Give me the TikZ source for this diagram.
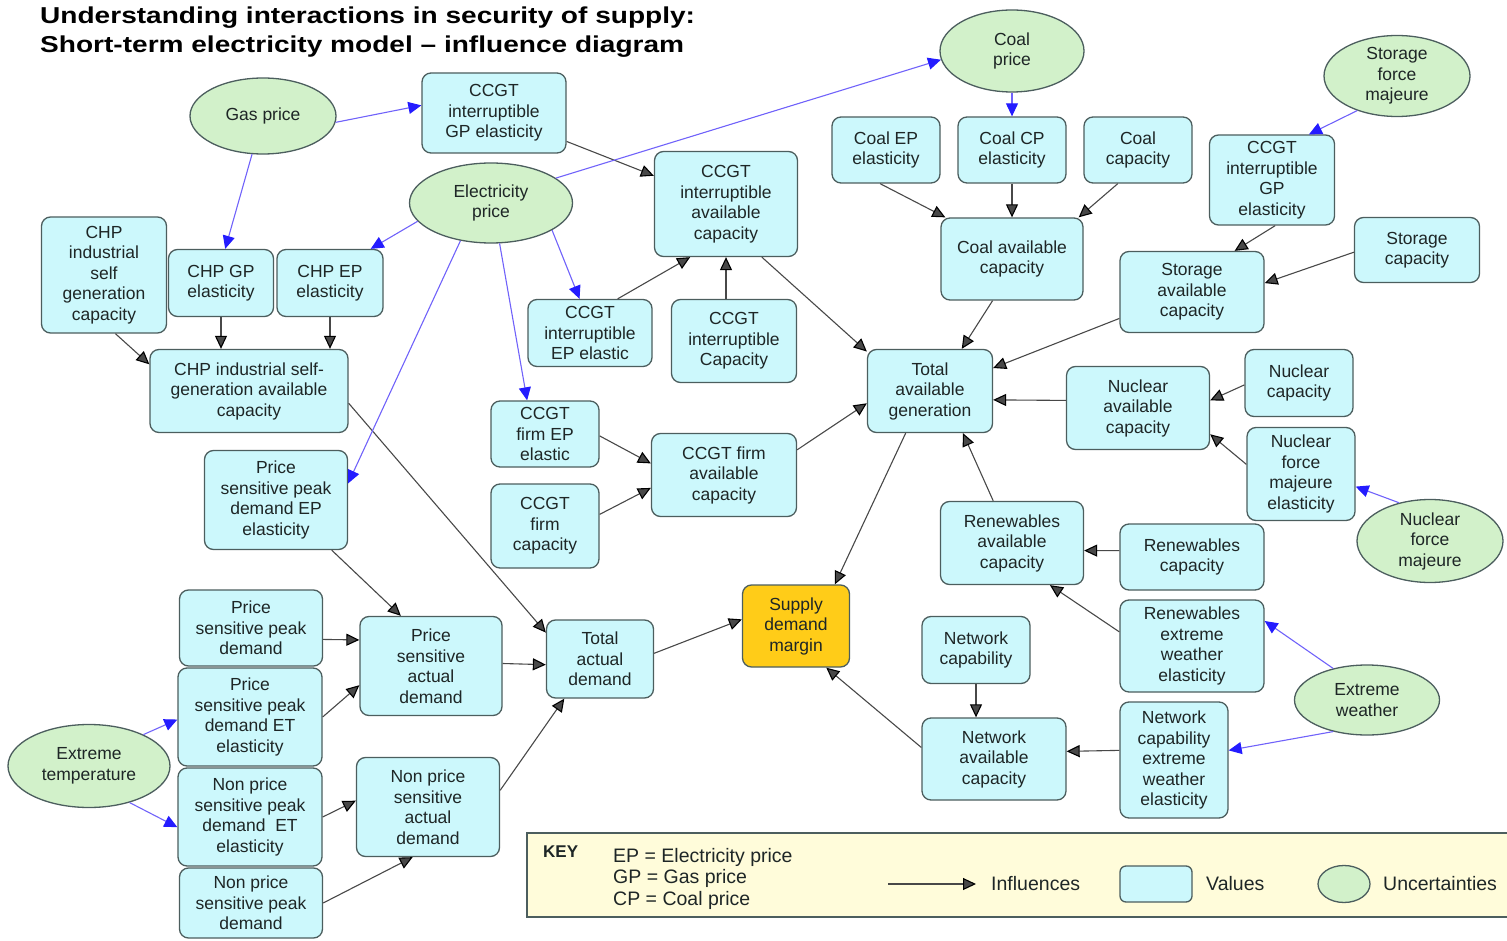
\documentclass[tikz,border=0pt]{standalone}
\usepackage{fontspec}
\setmainfont{Liberation Sans}
\newfontfamily\titlefont[FakeStretch=1.22]{Liberation Sans}
\usetikzlibrary{shapes.geometric,arrows.meta}

\definecolor{valuefill}{RGB}{204,248,252}
\definecolor{uncfill}{RGB}{210,241,202}
\definecolor{edgegrey}{RGB}{76,94,94}
\definecolor{margfill}{RGB}{255,204,24}
\definecolor{keyfill}{RGB}{255,252,218}
\definecolor{lineblue}{RGB}{112,98,250}
\definecolor{tipblue}{RGB}{36,28,255}
\definecolor{linegrey}{RGB}{72,72,72}
\definecolor{textgrey}{RGB}{30,38,38}

\newcommand{\diagfont}{\fontsize{17.5}{20.5}\selectfont}
\newcommand{\legendfont}{\fontsize{19.5}{21.5}\selectfont}

\begin{document}
\begin{tikzpicture}[x=1pt,y=-1pt,
    value/.style={rectangle,rounded corners=9pt,draw=edgegrey,line width=1.3pt,
                  fill=valuefill,align=center,inner sep=2pt,font=\diagfont,text=textgrey},
    uncert/.style={ellipse,draw=edgegrey,line width=1.3pt,fill=uncfill,
                   align=center,inner sep=0pt,font=\diagfont,text=textgrey},
    infl/.style={color=linegrey,line width=1.1pt,
                 -{Triangle[length=13pt,width=12pt,color=black]}},
    blueinfl/.style={color=lineblue,line width=1.1pt,
                     -{Triangle[length=13pt,width=12pt,color=tipblue]}}]

  \useasboundingbox (0,0) rectangle (1507,941);

  % title
  \node[anchor=base west,inner sep=0pt,font=\titlefont\bfseries\fontsize{23}{28}\selectfont]
    (title1) at (40,23.5) {Understanding interactions in security of supply:};
  \node[anchor=base west,inner sep=0pt,font=\titlefont\bfseries\fontsize{23}{28}\selectfont]
    (title2) at (40,52.5) {Short-term electricity model – influence diagram};

  % uncertainties
  \node[uncert,minimum width=146pt,minimum height=76pt] (gas)        at (263,116)  {Gas price};
  \node[uncert,minimum width=163pt,minimum height=80pt] (elec)       at (491,203)  {Electricity\\price};
  \node[uncert,minimum width=144pt,minimum height=82pt] (coal)       at (1012,51)  {Coal\\price};
  \node[uncert,minimum width=146pt,minimum height=81pt] (storfm)     at (1397,76)  {Storage\\force\\majeure};
  \node[uncert,minimum width=146pt,minimum height=83pt] (nucfm)      at (1430,541) {Nuclear\\force\\majeure};
  \node[uncert,minimum width=145pt,minimum height=70pt] (extweather) at (1367,700) {Extreme\\weather};
  \node[uncert,minimum width=162pt,minimum height=83pt] (exttemp)    at (89,766)   {Extreme\\temperature};

  % values, top left
  \node[value,minimum width=144pt,minimum height=80pt]  (ccgtgpl)  at (494,113) {CCGT\\interruptible\\GP elasticity};
  \node[value,minimum width=125pt,minimum height=116pt] (chpcap)   at (104,275) {CHP\\industrial\\self\\generation\\capacity};
  \node[value,minimum width=105pt,minimum height=67pt]  (chpgp)    at (221,283) {CHP GP\\elasticity};
  \node[value,minimum width=106pt,minimum height=67pt]  (chpep)    at (330,283) {CHP EP\\elasticity};
  \node[value,minimum width=198pt,minimum height=83pt]  (chpavail) at (249,391) {CHP industrial self-\\generation available\\capacity};

  % values, CCGT
  \node[value,minimum width=143pt,minimum height=105pt] (ccgtavail) at (726,204) {CCGT\\interruptible\\available\\capacity};
  \node[value,minimum width=124pt,minimum height=67pt]  (ccgtiep)   at (590,333) {CCGT\\interruptible\\EP elastic};
  \node[value,minimum width=125pt,minimum height=83pt]  (ccgticap)  at (734,341) {CCGT\\interruptible\\Capacity};
  \node[value,minimum width=108pt,minimum height=66pt]  (firmep)    at (545,434) {CCGT\\firm EP\\elastic};
  \node[value,minimum width=108pt,minimum height=84pt]  (firmcap)   at (545,526) {CCGT\\firm\\capacity};
  \node[value,minimum width=145pt,minimum height=83pt]  (firmavail) at (724,475) {CCGT firm\\available\\capacity};

  % values, coal and storage
  \node[value,minimum width=108pt,minimum height=66pt] (coalep)    at (886,150)  {Coal EP\\elasticity};
  \node[value,minimum width=108pt,minimum height=66pt] (coalcp)    at (1012,150) {Coal CP\\elasticity};
  \node[value,minimum width=108pt,minimum height=66pt] (coalcap)   at (1138,150) {Coal\\capacity};
  \node[value,minimum width=142pt,minimum height=82pt] (coalavail) at (1012,259) {Coal available\\capacity};
  \node[value,minimum width=125pt,minimum height=90pt] (ccgtgpr)   at (1272,180) {CCGT\\interruptible\\GP\\elasticity};
  \node[value,minimum width=125pt,minimum height=65pt] (storcap)   at (1417,250) {Storage\\capacity};
  \node[value,minimum width=144pt,minimum height=81pt] (storavail) at (1192,292) {Storage\\available\\capacity};

  % values, generation
  \node[value,minimum width=125pt,minimum height=83pt] (totgen)   at (930,391)  {Total\\available\\generation};
  \node[value,minimum width=143pt,minimum height=83pt] (nucavail) at (1138,408) {Nuclear\\available\\capacity};
  \node[value,minimum width=108pt,minimum height=67pt] (nuccap)   at (1299,383) {Nuclear\\capacity};
  \node[value,minimum width=108pt,minimum height=93pt] (nucfme)   at (1301,474) {Nuclear\\force\\majeure\\elasticity};
  \node[value,minimum width=143pt,minimum height=83pt] (renavail) at (1012,543) {Renewables\\available\\capacity};
  \node[value,minimum width=144pt,minimum height=66pt] (rencap)   at (1192,557) {Renewables\\capacity};
  \node[value,minimum width=144pt,minimum height=92pt] (renew)    at (1192,646) {Renewables\\extreme\\weather\\elasticity};
  \node[value,minimum width=108pt,minimum height=67pt] (netcap)   at (976,650)  {Network\\capability};
  \node[value,minimum width=144pt,minimum height=82pt] (netavail) at (994,759)  {Network\\available\\capacity};
  \node[value,minimum width=108pt,minimum height=116pt] (netew)   at (1174,760) {Network\\capability\\extreme\\weather\\elasticity};

  % values, demand
  \node[value,minimum width=143pt,minimum height=99pt] (pspdep)  at (276,500) {Price\\sensitive peak\\demand EP\\elasticity};
  \node[value,minimum width=143pt,minimum height=76pt] (pspd)    at (251,628) {Price\\sensitive peak\\demand};
  \node[value,minimum width=144pt,minimum height=98pt] (pspdet)  at (250,717) {Price\\sensitive peak\\demand ET\\elasticity};
  \node[value,minimum width=144pt,minimum height=98pt] (npspdet) at (250,817) {Non price\\sensitive peak\\demand\ \ ET\\elasticity};
  \node[value,minimum width=143pt,minimum height=70pt] (npspd)   at (251,903) {Non price\\sensitive peak\\demand};
  \node[value,minimum width=142pt,minimum height=99pt] (psad)    at (431,666) {Price\\sensitive\\actual\\demand};
  \node[value,minimum width=143pt,minimum height=99pt] (npsad)   at (428,807) {Non price\\sensitive\\actual\\demand};
  \node[value,minimum width=107pt,minimum height=78pt] (totdem)  at (600,659) {Total\\actual\\demand};
  \node[value,fill=margfill,minimum width=107pt,minimum height=82pt] (margin) at (796,626) {Supply\\demand\\margin};

  % influences
  \path[infl] (ccgtgpl) edge (ccgtavail)
              (ccgtiep.51) edge (ccgtavail.-124)
              (ccgticap.north -| ccgtavail.south) edge (ccgtavail.south)
              (ccgtavail.-56) edge (totgen.148)
              (coalep.-100) edge (coalavail.148)
              (coalcp) edge (coalavail)
              (coalcap.-121) edge (coalavail.32)
              (coalavail.-115) edge (totgen.53)
              (ccgtgpr.-86) edge (storavail.44)
              (storcap.182) edge (storavail.7)
              (storavail.200) edge (totgen.20)
              (nucavail.174) edge (totgen.-8)
              (nuccap.182) edge (nucavail.6)
              (nucfme.170) edge (nucavail.-20)
              (renavail.114) edge (totgen.-52)
              (rencap.175) edge (renavail.-6)
              (renew.169) edge (renavail.-48)
              (totgen.-120) edge (margin.47)
              (netcap.south) edge (netcap.south |- netavail.north)
              (netew.170) edge (netavail.6)
              (netavail.171) edge (margin.-54)
              (totdem.6) edge (margin.173)
              (chpcap.-79) edge (chpavail.165)
              (chpgp.south) edge (chpgp.south |- chpavail.north)
              (chpep.south) edge (chpep.south |- chpavail.north)
              (chpavail.-7) edge (totdem.154)
              (pspdep.-42) edge (psad.121)
              (pspd.-9) edge (psad.160)
              (pspdet.east) edge (psad.195)
              (npspdet.east) edge (npsad.175)
              (npspd.east) edge (npsad.-107)
              (psad.2) edge (totdem.186)
              (npsad.13) edge (totdem.-132)
              (firmep.-2) edge (firmavail.171)
              (firmcap.12) edge (firmavail.190)
              (firmavail.19) edge (totgen.191);

  % influences of uncertainties
  \path[blueinfl] (gas.-5) edge (ccgtgpl.174)
                  (gas.-106) edge (chpgp.83)
                  (elec.21) edge (coal.187)
                  (elec.194) edge (chpep.40)
                  (elec.-24) edge (ccgtiep.107)
                  (elec.-78) edge (firmep.118)
                  (elec.-129) edge (pspdep.13)
                  (coal) edge (coalcp)
                  (storfm.-139) edge (ccgtgpr.51)
                  (nucfm.129) edge (nucfme.-13)
                  (extweather.137) edge (renew.19)
                  (extweather.-137) edge (netew.10)
                  (exttemp.30) edge (pspdet.182)
                  (exttemp.-42) edge (npspdet.188);

  % key
  \fill[keyfill] (527,833) rectangle (1507,917);
  \draw[edgegrey,line width=1.3pt] (1507,833) -- (527,833) -- (527,917) -- (1507,917);
  \node[anchor=base west,inner sep=0pt,font=\bfseries\fontsize{17}{20}\selectfont,text=textgrey]
    (keytitle) at (543,857) {KEY};
  \node[anchor=north west,inner sep=0pt,align=left,font=\legendfont,text=textgrey]
    (keyabbr) at (613,848) {EP = Electricity price\\GP = Gas price\\CP = Coal price};
  \coordinate (keyfrom) at (888,884);
  \coordinate (keyto)   at (976,884);
  \path[infl] (keyfrom) edge (keyto);
  \node[anchor=west,inner sep=0pt,font=\legendfont,text=textgrey] (keyinfl) at (991,884) {Influences};
  \node[value,rounded corners=6pt,minimum width=72pt,minimum height=36pt] (keyval) at (1156,884) {};
  \node[anchor=west,inner sep=0pt,font=\legendfont,text=textgrey] (keyvaltext) at (1206,884) {Values};
  \node[uncert,minimum width=52pt,minimum height=37pt] (keyunc) at (1344,884) {};
  \node[anchor=west,inner sep=0pt,font=\legendfont,text=textgrey] (keyunctext) at (1383,884) {Uncertainties};
\end{tikzpicture}
\end{document}
